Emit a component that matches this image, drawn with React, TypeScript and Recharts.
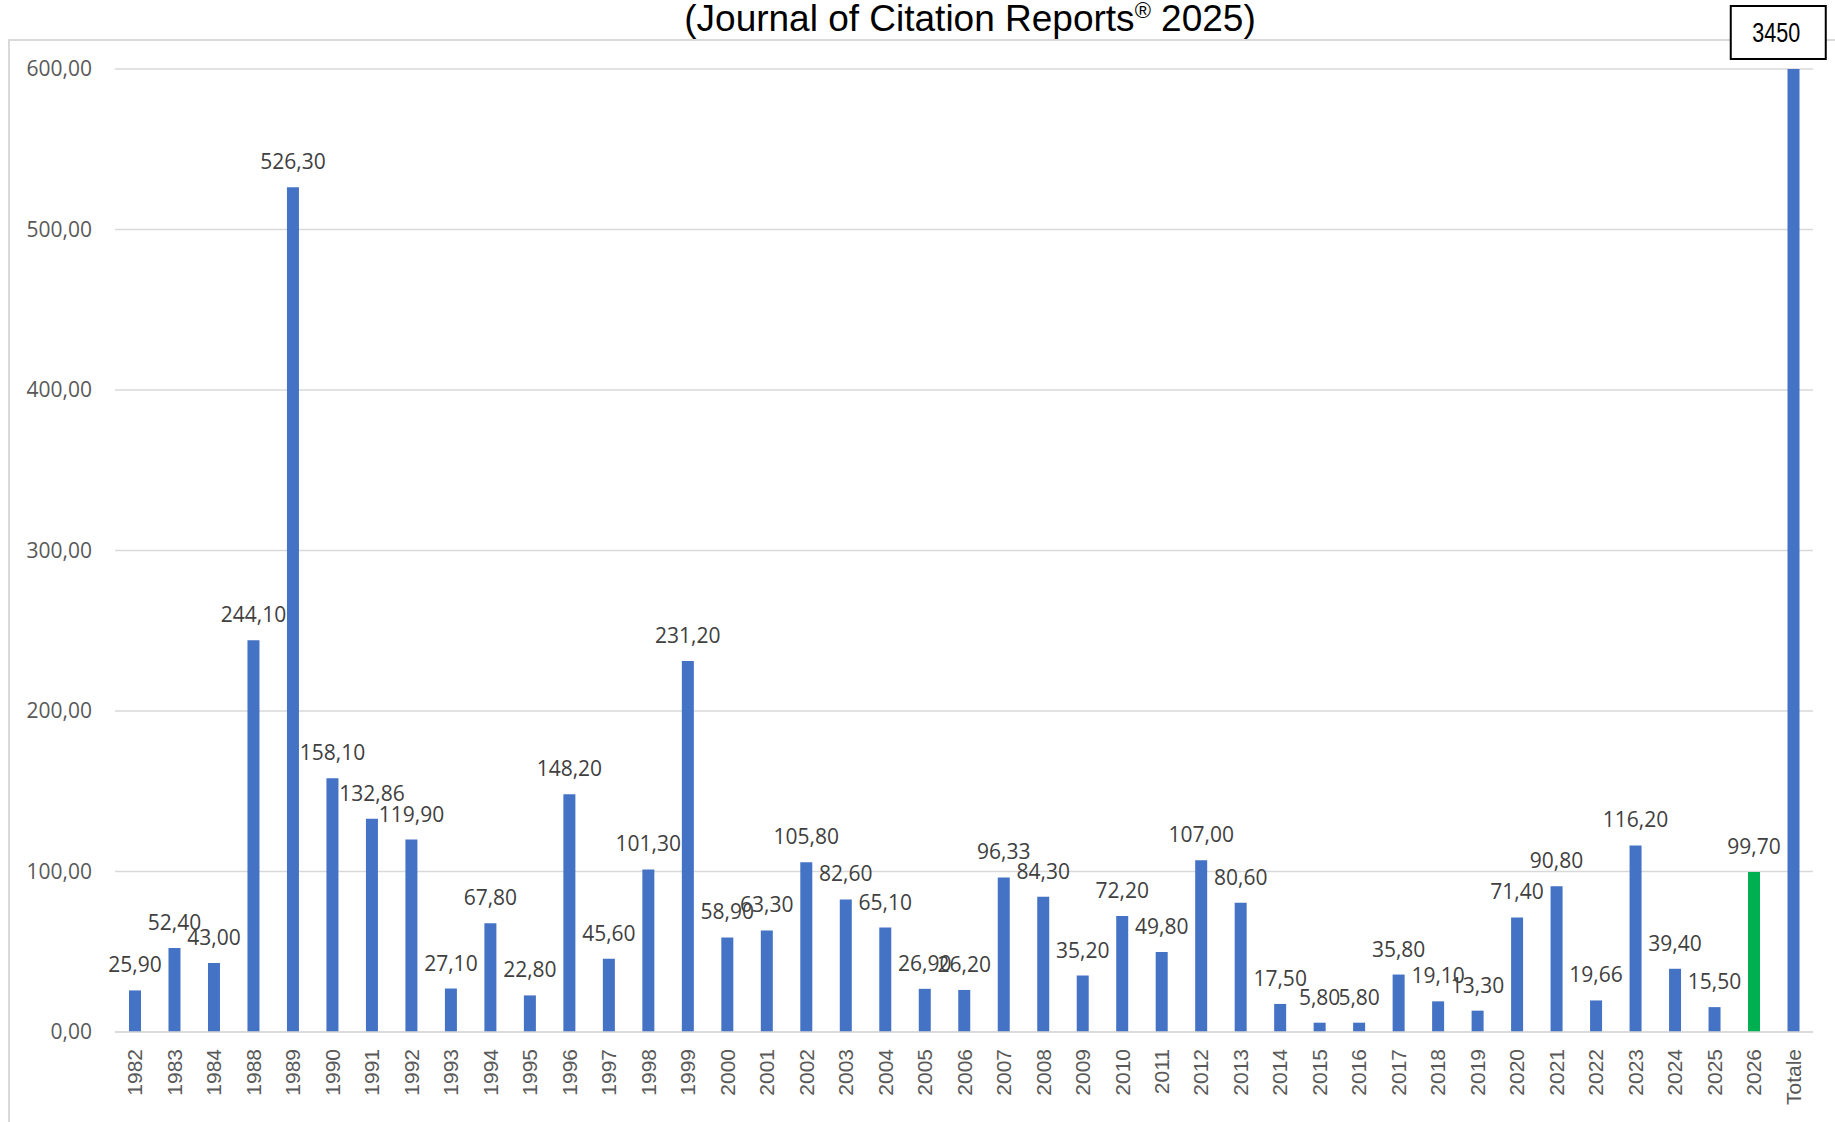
import React from 'react';
import { BarChart, Bar, XAxis, YAxis, CartesianGrid, Cell, LabelList, ReferenceDot } from 'recharts';

const categories = [
  '1982', '1983', '1984', '1988', '1989', '1990', '1991', '1992', '1993', '1994',
  '1995', '1996', '1997', '1998', '1999', '2000', '2001', '2002', '2003', '2004',
  '2005', '2006', '2007', '2008', '2009', '2010', '2011', '2012', '2013', '2014',
  '2015', '2016', '2017', '2018', '2019', '2020', '2021', '2022', '2023', '2024',
  '2025', '2026', 'Totale',
];

const values = [
  25.9, 52.4, 43.0, 244.1, 526.3, 158.1, 132.86, 119.9, 27.1, 67.8,
  22.8, 148.2, 45.6, 101.3, 231.2, 58.9, 63.3, 105.8, 82.6, 65.1,
  26.9, 26.2, 96.33, 84.3, 35.2, 72.2, 49.8, 107.0, 80.6, 17.5,
  5.8, 5.8, 35.8, 19.1, 13.3, 71.4, 90.8, 19.66, 116.2, 39.4,
  15.5, 99.7, 3450,
];

const yTicks = [0, 100, 200, 300, 400, 500, 600];
const yMax = 600;
const totalCategory = 'Totale';
const totalLabel = '3450';
const highlightCategory = '2026';
const titleMain = '(Journal of Citation Reports';
const titleMark = '®';
const titleTail = ' 2025)';

const data = categories.map((c, i) => ({ name: c, value: values[i] }));

const BLUE = '#4472C4';
const GREEN = '#00B050';
const GRID = '#D9D9D9';

const fmt = (v: number) => v.toFixed(2).replace('.', ',');

const XTick = (props: any) => {
  const { x, y, payload } = props;
  return (
    <g transform={`translate(${x},${y})`}>
      <text
        transform="rotate(-90)"
        x={0}
        y={0}
        dy="0.36em"
        textAnchor="end"
        fill="#595959"
        fontSize={21}
        fontFamily="'Liberation Sans', Arial, sans-serif"
      >
        {payload.value}
      </text>
    </g>
  );
};

const BarLabel = (props: any) => {
  const { x, y, width, value } = props;
  if (value == null || value > yMax) return null;
  return (
    <text
      x={x + width / 2}
      y={y - 18}
      textAnchor="middle"
      fill="#404040"
      fontSize={21}
      fontFamily="'Open Sans', sans-serif"
    >
      {fmt(value)}
    </text>
  );
};

const TotalBox = (props: any) => {
  const { cx, cy } = props;
  if (cx == null || cy == null) return null;
  return (
    <g>
      <rect x={cx - 62.5} y={cy - 63} width={95} height={53} fill="#FFFFFF" stroke="#000000" strokeWidth={2} />
      <text
        x={cx - 17}
        y={cy - 36.5}
        dy="0.36em"
        textAnchor="middle"
        fill="#000000"
        fontSize={27}
        fontFamily="'Liberation Sans', Arial, sans-serif"
        textLength={48}
        lengthAdjust="spacingAndGlyphs"
      >
        {totalLabel}
      </text>
    </g>
  );
};

export default function App() {
  return (
    <div
      style={{
        position: 'absolute',
        left: 0,
        top: 0,
        width: 1835,
        height: 1122,
        overflow: 'hidden',
        background: '#FFFFFF',
      }}
    >
      <div
        style={{
          position: 'absolute',
          left: 8,
          top: 39,
          width: 2000,
          height: 1300,
          borderTop: `2px solid ${GRID}`,
          borderLeft: `2px solid ${GRID}`,
        }}
      />
      <div style={{ position: 'absolute', left: 0, top: 0 }}>
        <BarChart
          width={1835}
          height={1122}
          data={data}
          margin={{ top: 69, right: 22, bottom: 0, left: 0 }}
        >
          <CartesianGrid vertical={false} stroke={GRID} strokeWidth={1.5} />
          <XAxis
            dataKey="name"
            interval={0}
            height={90}
            tickLine={false}
            tickSize={0}
            tickMargin={17}
            axisLine={{ stroke: GRID, strokeWidth: 1.5 }}
            tick={<XTick />}
          />
          <YAxis
            width={115}
            domain={[0, yMax]}
            ticks={yTicks}
            allowDataOverflow
            tickLine={false}
            axisLine={false}
            tickSize={0}
            tickMargin={23}
            tickFormatter={fmt}
            tick={{ fill: '#595959', fontSize: 21, fontFamily: "'Open Sans', sans-serif" }}
          />
          <Bar dataKey="value" barSize={12} isAnimationActive={false}>
            {data.map((d) => (
              <Cell key={d.name} fill={d.name === highlightCategory ? GREEN : BLUE} />
            ))}
            <LabelList dataKey="value" content={<BarLabel />} />
          </Bar>
          <ReferenceDot x={totalCategory} y={yMax} r={0} shape={<TotalBox />} ifOverflow="visible" />
        </BarChart>
      </div>
      <svg
        width={1835}
        height={60}
        style={{ position: 'absolute', left: 0, top: 0, pointerEvents: 'none' }}
      >
        <text
          x={970}
          y={31}
          textAnchor="middle"
          fill="#000000"
          fontSize={37}
          fontFamily="'Liberation Sans', Arial, sans-serif"
        >
          {titleMain}
          <tspan fontSize={22} dy={-13}>{titleMark}</tspan>
          <tspan dy={13}>{titleTail}</tspan>
        </text>
      </svg>
    </div>
  );
}
